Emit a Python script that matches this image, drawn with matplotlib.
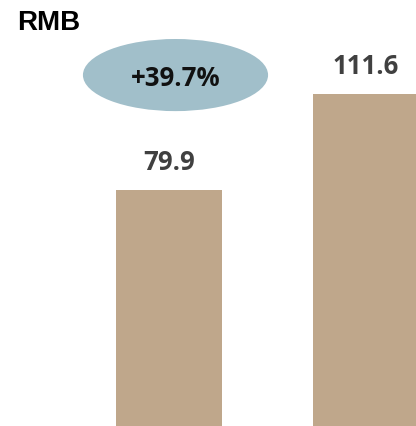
import matplotlib.pyplot as plt
from matplotlib.patches import Ellipse

# chart values
categories = ["Prior", "Current"]
values = [79.9, 111.6]
growth_label = "+39.7%"
unit_label = "RMB"

bar_color = "#BFA78B"
ellipse_color = "#A1BFCA"
label_color = "#404040"

fig = plt.figure(figsize=(4.16, 4.27), dpi=100)
ax = fig.add_axes([0, 0, 1, 1])

xs = list(range(len(categories)))
ax.bar(xs, values, width=0.54, color=bar_color, linewidth=0)

for x, v in zip(xs, values):
    ax.annotate(f"{v:.1f}", xy=(x, v), xytext=(0, 28), textcoords="offset pixels",
                ha="center", va="center", fontsize=18.5, fontweight="bold",
                family="Open Sans", color=label_color)

# growth bubble over the first bar
ell = Ellipse((0.033, 117.8), 0.94, 23.8, facecolor=ellipse_color, edgecolor="none")
ax.add_patch(ell)
ax.text(0.035, 117.0, growth_label, ha="center", va="center", fontsize=18.5,
        fontweight="bold", family="Open Sans", color="#111111")

fig.text(17 / 416, 1 - 23 / 427, unit_label, ha="left", va="center", fontsize=20,
         fontweight="bold", family="Liberation Sans", color="black")

ax.set_xlim(-0.858, 1.254)
ax.set_ylim(1.98, 142.9)
ax.axis("off")

fig.savefig("out.png", dpi=100)
